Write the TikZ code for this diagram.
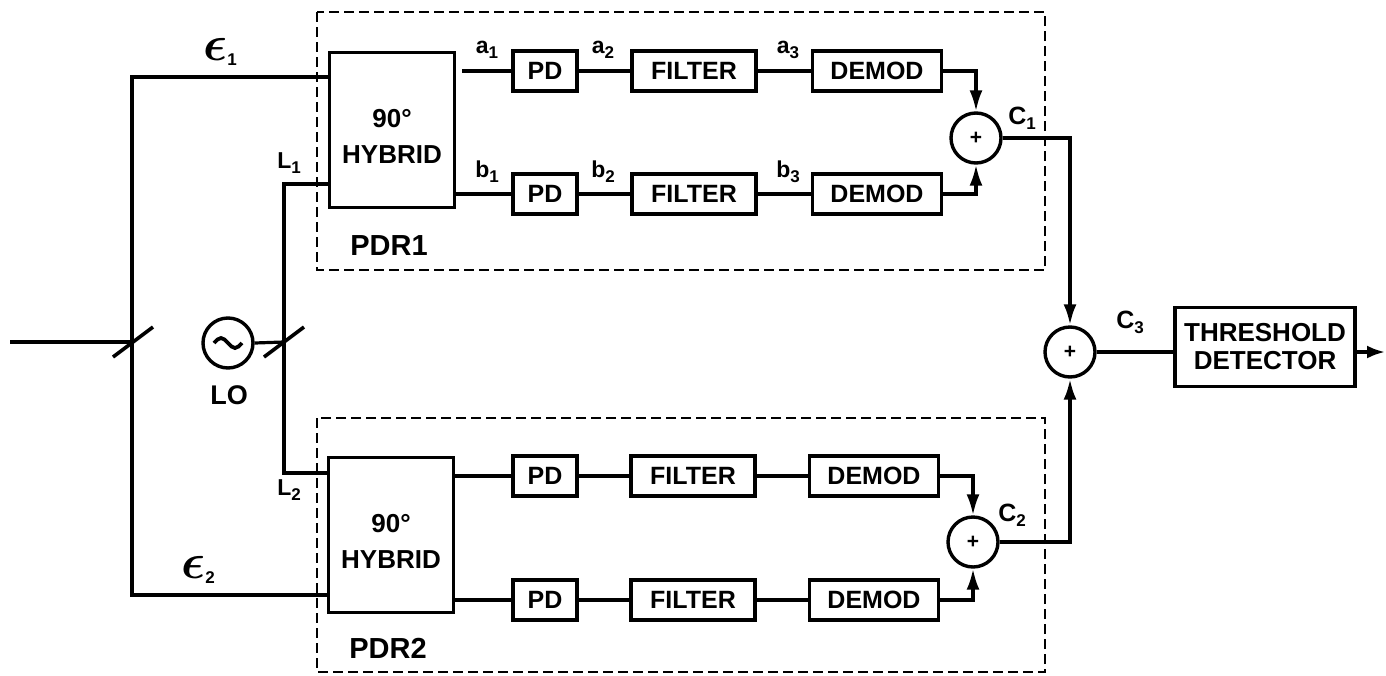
\documentclass[tikz,border=0pt]{standalone}
\usepackage{amsmath}
\usepackage{graphicx}
\usepackage{fontspec}
\setmainfont{Liberation Sans}
\usetikzlibrary{arrows.meta,calc}
\tikzset{
 blk/.style={draw, line width=3.4pt, inner sep=0pt, font=\fontsize{25}{25}\selectfont\bfseries},
 hyb/.style={blk, minimum width=125pt, minimum height=155pt},
 hybtext/.style={align=center, font=\fontsize{26}{36}\selectfont\bfseries, yshift=-6pt},
 pdbox/.style={blk, minimum width=64pt, minimum height=40pt},
 filbox/.style={blk, minimum width=124pt, minimum height=40pt},
 dembox/.style={blk, minimum width=129pt, minimum height=40pt},
 wire/.style={line width=3.2pt},
 arr/.style={wire, -{Latex[length=21pt,width=13pt]}},
 sumnode/.style={draw, circle, line width=3.4pt, minimum size=50pt, inner sep=0pt, font=\fontsize{21}{21}\selectfont\bfseries},
 grp/.style={line width=2.8pt, dash pattern=on 10pt off 5pt},
 lbl/.style={font=\fontsize{23}{23}\selectfont\bfseries, inner sep=0pt},
 big/.style={font=\fontsize{29}{29}\selectfont\bfseries, inner sep=0pt},
}
\newcommand\sbs[1]{\raisebox{-5pt}{\fontsize{17}{17}\selectfont\bfseries #1}}
\newcommand\eps{\scalebox{2}{$\boldsymbol{\epsilon}$}}
\begin{document}
\begin{tikzpicture}[x=1pt,y=-1pt]
\useasboundingbox (0,0) rectangle (1386,675);

% group frames
\draw[grp] (317,12) rectangle (1045,270);
\draw[grp] (317,418) rectangle (1045,672);
\node[big] (pdr1) at (389,246) {PDR1};
\node[big] (pdr2) at (388,648) {PDR2};

% PDR1
\node[hyb, label={[hybtext, name=hyb1t]center:90°\\HYBRID}] (hyb1) at (392,130) {};
\node[pdbox] (pa1) at (545,71) {PD};
\node[filbox] (fa1) at (694,71) {FILTER};
\node[dembox] (da1) at (877,71) {DEMOD};
\node[pdbox] (pb1) at (545,194) {PD};
\node[filbox] (fb1) at (694,194) {FILTER};
\node[dembox] (db1) at (877,194) {DEMOD};
\node[sumnode] (s1) at (976,138) {+};

% PDR2
\node[hyb, label={[hybtext, name=hyb2t]center:90°\\HYBRID}] (hyb2) at (391,535) {};
\node[pdbox] (pa2) at (545,476) {PD};
\node[filbox] (fa2) at (693,476) {FILTER};
\node[dembox] (da2) at (874,476) {DEMOD};
\node[pdbox] (pb2) at (545,600) {PD};
\node[filbox] (fb2) at (693,600) {FILTER};
\node[dembox] (db2) at (874,600) {DEMOD};
\node[sumnode] (s2) at (973,542) {+};

% final stage
\node[sumnode] (s3) at (1070,352) {+};
\node[blk, minimum width=180pt, minimum height=79pt, align=center, font=\fontsize{26}{28}\selectfont\bfseries] (thr) at (1265,347) {THRESHOLD\\DETECTOR};
\coordinate (out) at (1385,352);

% chains PDR1
\draw[wire] ($(hyb1.east |- pa1.west)+(6,0)$) -- (pa1.west);
\draw[wire] (pa1) -- (fa1) -- (da1);
\draw[wire] (hyb1.east |- pb1.west) -- (pb1.west);
\draw[wire] (pb1) -- (fb1) -- (db1);
\draw[arr] (da1.east) -| (s1.north);
\draw[arr] (db1.east) -| (s1.south);

% chains PDR2
\draw[wire] (hyb2.east |- pa2.west) -- (pa2.west);
\draw[wire] (pa2) -- (fa2) -- (da2);
\draw[wire] (hyb2.east |- pb2.west) -- (pb2.west);
\draw[wire] (pb2) -- (fb2) -- (db2);
\draw[arr] (da2.east) -| (s2.north);
\draw[arr] (db2.east) -| (s2.south);

% combining
\draw[arr, line width=3.6pt] (s1.east) -| (s3.north);
\draw[arr, line width=3.6pt] (s2.east) -| (s3.south);
\draw[wire] (s3.east) -- (s3.east -| thr.west);
\draw[wire, -{Latex[length=18pt,width=13pt]}] (thr.east |- s3.east) -- (out);

% signal input
\coordinate (e1) at (132,77);
\coordinate (e2) at (132,595);
\coordinate (in) at (10,342);
\coordinate (j1) at (132,342);
\draw[wire] (hyb1.west |- e1) -- (e1) -- (e2) -- (hyb2.west |- e2);
\draw[wire] (in) -- (j1);
\draw[wire, line width=3.6pt] ($(j1)+(-19,15)$) -- ($(j1)+(21,-15)$);

% local oscillator
\node[draw, circle, line width=3.4pt, minimum size=50pt, inner sep=0pt] (lo) at (228,343) {};
\draw[line width=3.8pt] ($(lo)+(-14,0)$) sin ++(7,-5) cos ++(7,5) sin ++(7,5) cos ++(7,-5);
\node[font=\fontsize{27}{27}\selectfont\bfseries, inner sep=0pt] (lol) at (229,395) {LO};
\coordinate (L1) at (284,184);
\coordinate (L2) at (284,473);
\coordinate (j2) at (284,342);
\draw[wire] (hyb1.west |- L1) -- (L1) -- (L2) -- (hyb2.west |- L2);
\draw[wire] (lo.east) -- (j2);
\draw[wire, line width=3.6pt] ($(j2)+(-20,15)$) -- ($(j2)+(20,-15)$);

% labels
\node[lbl] (le1) at (220,52) {\eps\sbs{1}};
\node[lbl] (le2) at (198,570) {\eps\sbs{2}};
\node[lbl] (ll1) at (289,163) {L\sbs{1}};
\node[lbl] (ll2) at (289,490) {L\sbs{2}};
\node[lbl] (la1) at (487,50) {a\sbs{1}};
\node[lbl] (la2) at (603,50) {a\sbs{2}};
\node[lbl] (la3) at (788,50) {a\sbs{3}};
\node[lbl] (lb1) at (487,172) {b\sbs{1}};
\node[lbl] (lb2) at (603,172) {b\sbs{2}};
\node[lbl] (lb3) at (788,172) {b\sbs{3}};
\node[lbl, font=\fontsize{25}{25}\selectfont\bfseries] (lc1) at (1022,118) {C\sbs{1}};
\node[lbl, font=\fontsize{25}{25}\selectfont\bfseries] (lc2) at (1012,515) {C\sbs{2}};
\node[lbl, font=\fontsize{25}{25}\selectfont\bfseries] (lc3) at (1130,322) {C\sbs{3}};
\end{tikzpicture}
\end{document}
